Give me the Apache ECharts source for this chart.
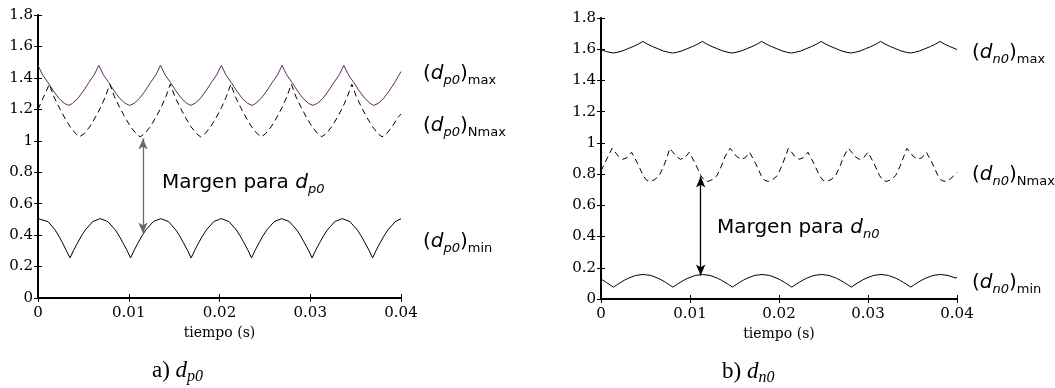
<!DOCTYPE html>
<html>
<head>
<meta charset="utf-8">
<script src="https://cdn.jsdelivr.net/npm/echarts@6/dist/echarts.min.js"></script>
<style>html,body{margin:0;padding:0;background:#fff}#c{width:1055px;height:388px}</style>
</head>
<body>
<div id="c"></div>
<script>
// ---------- data ----------
// x-axis ticks (s) and y-axis range
const xTicks = [0, 0.01, 0.02, 0.03, 0.04];
const yTicks = [0, 0.2, 0.4, 0.6, 0.8, 1, 1.2, 1.4, 1.6, 1.8];

// a) d_p0 : (d_p0)max  (purple solid)
const tPmax = [0,0.0005,0.0011,0.0017,0.0023,0.0029,0.0034,0.0038,0.0044,0.0050,0.0056,0.0062,
  0.0067,0.0072,0.0078,0.0084,0.0090,0.0096,0.0101,0.0106,0.0112,0.0118,0.0124,0.0130,
  0.0135,0.0140,0.0146,0.0152,0.0158,0.0164,0.0168,0.0173,0.0179,0.0185,0.0191,0.0197,
  0.0202,0.0207,0.0213,0.0219,0.0225,0.0231,0.0236,0.0240,0.0246,0.0252,0.0258,0.0264,
  0.0269,0.0274,0.0280,0.0286,0.0292,0.0298,0.0303,0.0308,0.0314,0.0320,0.0326,0.0332,
  0.0337,0.0342,0.0348,0.0354,0.0360,0.0366,0.0370,0.0375,0.0381,0.0387,0.0393,0.0400];
const vPmax = [1.48,1.42,1.37,1.317,1.27,1.238,1.225,1.238,1.27,1.317,1.37,1.42,
  1.48,1.42,1.37,1.317,1.27,1.238,1.225,1.238,1.27,1.317,1.37,1.42,
  1.48,1.42,1.37,1.317,1.27,1.238,1.225,1.238,1.27,1.317,1.37,1.42,
  1.48,1.42,1.37,1.317,1.27,1.238,1.225,1.238,1.27,1.317,1.37,1.42,
  1.48,1.42,1.37,1.317,1.27,1.238,1.225,1.238,1.27,1.317,1.37,1.42,
  1.48,1.42,1.37,1.317,1.27,1.238,1.225,1.238,1.27,1.317,1.37,1.44];

// a) (d_p0)Nmax (black dashed)
const tPN = [0,
  0.00125,0.00175,0.00235,0.00295,0.00355,0.00415,0.00458,0.00508,0.00568,0.00628,0.00688,0.00742,
  0.00792,0.00842,0.00902,0.00962,0.01022,0.01082,0.01125,0.01175,0.01235,0.01295,0.01355,0.01409,
  0.01458,0.01508,0.01568,0.01628,0.01688,0.01748,0.01791,0.01841,0.01901,0.01961,0.02021,0.02075,
  0.02125,0.02175,0.02235,0.02295,0.02355,0.02415,0.02458,0.02508,0.02568,0.02628,0.02688,0.02742,
  0.02792,0.02842,0.02902,0.02962,0.03022,0.03082,0.03125,0.03175,0.03235,0.03295,0.03355,0.03409,
  0.03458,0.03508,0.03568,0.03628,0.03688,0.03748,0.03791,0.03841,0.03901,0.03961,0.04];
const vPN = [1.20,
  1.36,1.28,1.21,1.145,1.088,1.045,1.025,1.045,1.088,1.145,1.21,1.28,
  1.36,1.28,1.21,1.145,1.088,1.045,1.025,1.045,1.088,1.145,1.21,1.28,
  1.36,1.28,1.21,1.145,1.088,1.045,1.025,1.045,1.088,1.145,1.21,1.28,
  1.36,1.28,1.21,1.145,1.088,1.045,1.025,1.045,1.088,1.145,1.21,1.28,
  1.36,1.28,1.21,1.145,1.088,1.045,1.025,1.045,1.088,1.145,1.21,1.28,
  1.36,1.28,1.21,1.145,1.088,1.045,1.025,1.045,1.088,1.145,1.17];

// a) (d_p0)min (black solid)
const tPmin = [0,0.0011,0.0019,0.0023,0.0027,0.0031,
  0.00353,0.00393,0.00436,0.00478,0.0052,0.00603,0.00686,0.0077,0.00853,0.00895,0.00936,0.0098,
  0.0102,0.0106,0.01103,0.01145,0.01187,0.0127,0.01353,0.01437,0.0152,0.01562,0.01603,0.01647,
  0.01687,0.01727,0.0177,0.01812,0.01854,0.01937,0.0202,0.02104,0.02187,0.02229,0.0227,0.02314,
  0.02353,0.02393,0.02436,0.02478,0.0252,0.02603,0.02686,0.0277,0.02853,0.02895,0.02936,0.0298,
  0.0302,0.0306,0.03103,0.03145,0.03187,0.0327,0.03353,0.03437,0.0352,0.03562,0.03603,0.03647,
  0.03687,0.03727,0.0377,0.03812,0.03854,0.03937,0.04];
const vPmin = [0.505,0.486,0.432,0.394,0.351,0.304,
  0.255,0.304,0.351,0.394,0.432,0.486,0.505,0.486,0.432,0.394,0.351,0.304,
  0.255,0.304,0.351,0.394,0.432,0.486,0.505,0.486,0.432,0.394,0.351,0.304,
  0.255,0.304,0.351,0.394,0.432,0.486,0.505,0.486,0.432,0.394,0.351,0.304,
  0.255,0.304,0.351,0.394,0.432,0.486,0.505,0.486,0.432,0.394,0.351,0.304,
  0.255,0.304,0.351,0.394,0.432,0.486,0.505,0.486,0.432,0.394,0.351,0.304,
  0.255,0.304,0.351,0.394,0.432,0.486,0.504];

// b) d_n0 : (d_n0)max (black solid)
const tNmax = [0,0.0006,0.00136,0.0018,0.0024,0.0030,0.0036,0.0042,
  0.0047,0.0052,0.0058,0.0064,0.007,0.0076,0.00804,0.00848,0.00908,0.00968,0.01028,0.01088,
  0.01138,0.01188,0.01248,0.01308,0.01368,0.01428,0.01472,0.01516,0.01576,0.01636,0.01696,0.01756,
  0.01806,0.01856,0.01916,0.01976,0.02036,0.02096,0.0214,0.02184,0.02244,0.02304,0.02364,0.02424,
  0.02474,0.02524,0.02584,0.02644,0.02704,0.02764,0.02808,0.02852,0.02912,0.02972,0.03032,0.03092,
  0.03142,0.03192,0.03252,0.03312,0.03372,0.03432,0.03476,0.0352,0.0358,0.0364,0.037,0.0376,
  0.0381,0.0386,0.0392,0.0398,0.04];
const vNmax = [1.597,1.585,1.576,1.58,1.589,1.603,1.617,1.633,
  1.65,1.633,1.617,1.603,1.589,1.58,1.576,1.58,1.589,1.603,1.617,1.633,
  1.65,1.633,1.617,1.603,1.589,1.58,1.576,1.58,1.589,1.603,1.617,1.633,
  1.65,1.633,1.617,1.603,1.589,1.58,1.576,1.58,1.589,1.603,1.617,1.633,
  1.65,1.633,1.617,1.603,1.589,1.58,1.576,1.58,1.589,1.603,1.617,1.633,
  1.65,1.633,1.617,1.603,1.589,1.58,1.576,1.58,1.589,1.603,1.617,1.633,
  1.65,1.633,1.617,1.603,1.598];

// b) (d_n0)Nmax (black dashed)
const tNN = [0,
  0.00124,0.00154,0.00194,0.00244,0.00294,0.00344,0.00414,0.00474,0.00514,0.00554,0.00604,0.00654,0.00704,0.00744,
  0.00772,0.00802,0.00842,0.00892,0.00942,0.00992,0.01062,0.01122,0.01162,0.01202,0.01252,0.01302,0.01352,0.01392,
  0.0145,0.0148,0.0152,0.0157,0.0162,0.0167,0.0174,0.018,0.0184,0.0188,0.0193,0.0198,0.0203,0.0207,
  0.02105,0.02135,0.02175,0.02225,0.02275,0.02325,0.02395,0.02455,0.02495,0.02535,0.02585,0.02635,0.02685,0.02725,
  0.0278,0.0281,0.0285,0.029,0.0295,0.03,0.0307,0.0313,0.0317,0.0321,0.0326,0.0331,0.0336,0.034,
  0.03436,0.03466,0.03506,0.03556,0.03606,0.03656,0.03726,0.03786,0.03826,0.03866,0.03916,0.03966,0.04];
const vNN = [0.82,
  0.965,0.945,0.915,0.895,0.905,0.94,0.865,0.79,0.76,0.753,0.765,0.79,0.85,0.91,
  0.965,0.945,0.915,0.895,0.905,0.94,0.865,0.79,0.76,0.753,0.765,0.79,0.85,0.91,
  0.965,0.945,0.915,0.895,0.905,0.94,0.865,0.79,0.76,0.753,0.765,0.79,0.85,0.91,
  0.965,0.945,0.915,0.895,0.905,0.94,0.865,0.79,0.76,0.753,0.765,0.79,0.85,0.91,
  0.965,0.945,0.915,0.895,0.905,0.94,0.865,0.79,0.76,0.753,0.765,0.79,0.85,0.91,
  0.965,0.945,0.915,0.895,0.905,0.94,0.865,0.79,0.76,0.753,0.765,0.79,0.81];

// b) (d_n0)min (black solid)
const tNmin = [0,0.0006,0.001,
  0.0014,0.00182,0.00224,0.00265,0.00307,0.0039,0.00474,0.00558,0.00641,0.00683,0.00724,0.00766,
  0.00808,0.0085,0.00892,0.00933,0.00975,0.01058,0.01142,0.01226,0.01309,0.01351,0.01392,0.01434,
  0.01476,0.01518,0.0156,0.01601,0.01643,0.01726,0.0181,0.01894,0.01977,0.02019,0.0206,0.02102,
  0.02144,0.02186,0.02228,0.02269,0.02311,0.02394,0.02478,0.02562,0.02645,0.02687,0.02728,0.0277,
  0.02812,0.02854,0.02896,0.02937,0.02979,0.03062,0.03146,0.0323,0.03313,0.03355,0.03396,0.03438,
  0.0348,0.03522,0.03564,0.03605,0.03647,0.0373,0.03814,0.03898,0.03981,0.04];
const vNmin = [0.128,0.106,0.091,
  0.076,0.092,0.107,0.121,0.133,0.151,0.157,0.151,0.133,0.121,0.107,0.092,
  0.076,0.092,0.107,0.121,0.133,0.151,0.157,0.151,0.133,0.121,0.107,0.092,
  0.076,0.092,0.107,0.121,0.133,0.151,0.157,0.151,0.133,0.121,0.107,0.092,
  0.076,0.092,0.107,0.121,0.133,0.151,0.157,0.151,0.133,0.121,0.107,0.092,
  0.076,0.092,0.107,0.121,0.133,0.151,0.157,0.151,0.133,0.121,0.107,0.092,
  0.076,0.092,0.107,0.121,0.133,0.151,0.157,0.151,0.135,0.138];

// "Margen" arrows: [t, vTop, vBottom]
const arrowP = [0.01157, 1.015, 0.411];
const arrowN = [0.0112, 0.785, 0.151];

// ---------- chart ----------
const zip = (t, v) => t.map((x, i) => [x, v[i]]);
const tickFont = 'DejaVu Serif';
const labelFont = 'DejaVu Sans';

function xAxes(gi) {
  return [{
    gridIndex: gi, type: 'value', min: xTicks[0], max: xTicks[xTicks.length - 1], interval: 0.01,
    axisLine: { lineStyle: { color: '#000', width: 2 } },
    axisTick: { inside: true, length: 4, lineStyle: { color: '#000', width: 1 } },
    axisLabel: { color: '#000', fontFamily: tickFont, fontSize: 15, margin: 8 },
    splitLine: { show: false },
    name: 'tiempo (s)', nameLocation: 'middle', nameGap: 27,
    nameTextStyle: { color: '#000', fontFamily: tickFont, fontSize: 14 }
  }, {
    gridIndex: gi, type: 'value', position: 'top', min: xTicks[0], max: xTicks[xTicks.length - 1], interval: 0.01,
    axisLine: { lineStyle: { color: '#000', width: 1 } },
    axisTick: { inside: true, length: 4, lineStyle: { color: '#000', width: 1 } },
    axisLabel: { show: false }, splitLine: { show: false }
  }];
}
function yAxes(gi) {
  return [{
    gridIndex: gi, type: 'value', min: yTicks[0], max: yTicks[yTicks.length - 1], interval: 0.2,
    axisLine: { show: true, lineStyle: { color: '#000', width: 2 } },
    axisTick: { show: true, inside: true, length: 4, lineStyle: { color: '#000', width: 1 } },
    axisLabel: { color: '#000', fontFamily: tickFont, fontSize: 15, margin: 5 },
    splitLine: { show: false }
  }, {
    gridIndex: gi, type: 'value', position: 'right', min: yTicks[0], max: yTicks[yTicks.length - 1], interval: 0.2,
    axisLine: { show: true, lineStyle: { color: '#000', width: 1 } },
    axisTick: { show: true, inside: true, length: 4, lineStyle: { color: '#000', width: 1 } },
    axisLabel: { show: false }, splitLine: { show: false }
  }];
}
function line(data, xi, yi, color, dashed, extra) {
  return Object.assign({
    type: 'line', xAxisIndex: xi, yAxisIndex: yi, data: data, showSymbol: false, symbol: 'none',
    silent: true, animation: false,
    lineStyle: { color: color, width: 1, type: dashed ? [6, 4] : 'solid' }
  }, extra || {});
}
function arrowMark(a, color) {
  return {
    markLine: {
      silent: true, animation: false, symbol: ['arrow', 'arrow'], symbolSize: [7, 11],
      label: { show: false },
      lineStyle: { color: color, width: 1.3, type: 'solid' },
      data: [[{ coord: [a[0], a[1]] }, { coord: [a[0], a[2]] }]]
    }
  };
}

const richLbl = {
  p: { fontFamily: labelFont, fontSize: 20, lineHeight: 26, fill: '#000' },
  d: { fontFamily: labelFont, fontSize: 20, fontStyle: 'italic', lineHeight: 26, fill: '#000' },
  s: { fontFamily: labelFont, fontSize: 13, fontStyle: 'italic', verticalAlign: 'bottom', lineHeight: 15, fill: '#000' },
  m: { fontFamily: labelFont, fontSize: 13, verticalAlign: 'bottom', lineHeight: 15, fill: '#000' }
};
const richCap = {
  a: { fontFamily: 'Liberation Serif', fontSize: 23, lineHeight: 28, fill: '#000' },
  d: { fontFamily: 'Liberation Serif', fontSize: 23, fontStyle: 'italic', lineHeight: 28, fill: '#000' },
  s: { fontFamily: 'Liberation Serif', fontSize: 16, fontStyle: 'italic', verticalAlign: 'bottom', lineHeight: 19, fill: '#000' }
};
function txt(x, y, text, rich) {
  return { type: 'text', x: x, y: y, silent: true,
    style: { text: text, rich: rich, verticalAlign: 'middle', align: 'left' } };
}

const chart = echarts.init(document.getElementById('c'), null, { renderer: 'canvas' });
chart.setOption({
  backgroundColor: '#fff',
  animation: false,
  grid: [
    { left: 38, top: 15, width: 363, height: 283 },
    { left: 601, top: 18, width: 356, height: 281 }
  ],
  xAxis: xAxes(0).concat(xAxes(1)),
  yAxis: yAxes(0).concat(yAxes(1)),
  series: [
    line(zip(tPmax, vPmax), 0, 0, '#5e2a60', false),
    line(zip(tPN, vPN), 0, 0, '#000', true),
    line(zip(tPmin, vPmin), 0, 0, '#000', false, arrowMark(arrowP, '#6a6a6a')),
    line(zip(tNmax, vNmax), 2, 2, '#000', false),
    line(zip(tNN, vNN), 2, 2, '#000', true),
    line(zip(tNmin, vNmin), 2, 2, '#000', false, arrowMark(arrowN, '#000'))
  ],
  graphic: [
    txt(423, 74, '{p|(}{d|d}{s|p0}{p|)}{m|max}', richLbl),
    txt(423, 126, '{p|(}{d|d}{s|p0}{p|)}{m|Nmax}', richLbl),
    txt(423, 242, '{p|(}{d|d}{s|p0}{p|)}{m|min}', richLbl),
    txt(972, 53, '{p|(}{d|d}{s|n0}{p|)}{m|max}', richLbl),
    txt(972, 175, '{p|(}{d|d}{s|n0}{p|)}{m|Nmax}', richLbl),
    txt(972, 283, '{p|(}{d|d}{s|n0}{p|)}{m|min}', richLbl),
    txt(162, 183, '{p|Margen para }{d|d}{s|p0}', richLbl),
    txt(717, 228, '{p|Margen para }{d|d}{s|n0}', richLbl),
    txt(152, 371, '{a|a) }{d|d}{s|p0}', richCap),
    txt(722, 372, '{a|b) }{d|d}{s|n0}', richCap)
  ]
});
</script>
</body>
</html>
